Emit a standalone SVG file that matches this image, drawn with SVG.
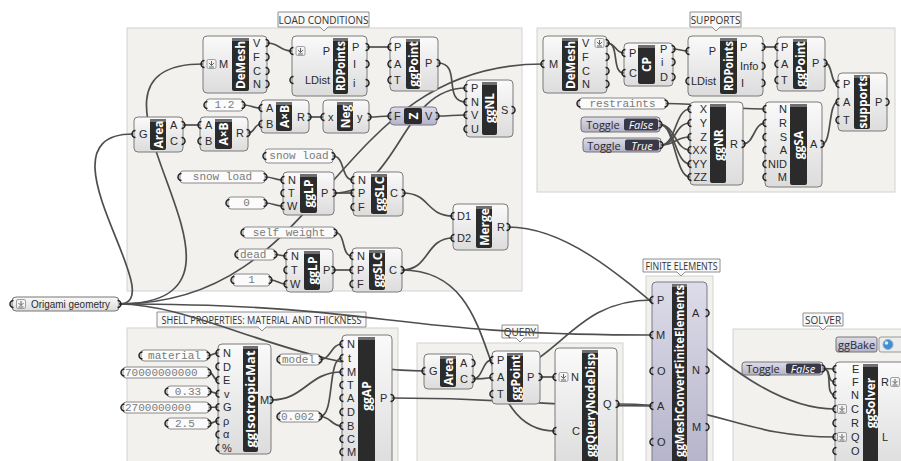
<svg xmlns="http://www.w3.org/2000/svg" width="901" height="461" viewBox="0 0 901 461">
<style>
.grp{fill:#f2f1ee;stroke:#d2d2d2}
.gl{fill:#f8f8f8;stroke:#8f8f8f}
.glt{font-family:"Open Sans","Noto Sans",sans-serif;font-size:10px;fill:#333;text-anchor:middle;dominant-baseline:central}
.body{fill:url(#gb);stroke:#7a7a7a}
.lav{fill:url(#gl);stroke:#7a7a8a}
.strip{fill:#2b2b2b}
.cap{fill:#707070}
.nm{font-family:"Open Sans","Noto Sans",sans-serif;font-weight:bold;font-size:12px;fill:#fff;text-anchor:middle;dominant-baseline:central}
.pl{font-family:"Liberation Sans","Arial",sans-serif;font-size:11px;fill:#2a2a2a;dominant-baseline:central}
.pr{text-anchor:end}
.w{fill:none;stroke:#4e4e4e;stroke-width:1.7}
.pn{fill:#fbfbfb;stroke:#8a8a8a}
.pt{font-family:"Liberation Mono","DejaVu Sans Mono",monospace;font-size:11px;fill:#7a7a7a;dominant-baseline:central}
.ptc{text-anchor:middle}
.tgl{fill:url(#gl);stroke:#777}
.tgd{fill:#383848}
.tgt{font-family:"Open Sans","Noto Sans",sans-serif;font-size:11px;fill:#2a2a2a;text-anchor:middle;dominant-baseline:central}
.tgv{font-family:"Open Sans","Noto Sans",sans-serif;font-size:11px;font-style:italic;fill:#fff;text-anchor:middle;dominant-baseline:central}
</style>
<defs>
<linearGradient id="gb" x1="0" y1="0" x2="0" y2="1"><stop offset="0" stop-color="#fafafa"/><stop offset="1" stop-color="#dcdcdc"/></linearGradient>
<linearGradient id="gl" x1="0" y1="0" x2="0" y2="1"><stop offset="0" stop-color="#dddce9"/><stop offset="1" stop-color="#b4b2c8"/></linearGradient>
<path id="gi" d="M1.5,-3.5 A3.5,3.5 0 0 0 1.5,3.5" fill="none" stroke="#222" stroke-width="1.5"/>
<path id="go" d="M-1.5,-3.5 A3.5,3.5 0 0 1 -1.5,3.5" fill="none" stroke="#222" stroke-width="1.5"/>
<g id="dn"><rect x="-4.5" y="-4.5" width="9" height="9" rx="1.5" fill="#f3f3f3" stroke="#8a8a8a" stroke-width="0.8"/><path d="M-2.5,-1 L0,1.5 L2.5,-1 M0,-3 V1.5 M-2.5,3 H2.5" fill="none" stroke="#555" stroke-width="0.9"/></g>
</defs>
<rect width="901" height="461" fill="#ffffff"/>

<g id="groups">
<rect class="grp" x="127" y="28" width="395" height="263"/>
<path class="gl" d="M278,12 H369 V27 H328 L324,31 L320,27 H278 Z"/>
<text class="glt" x="323.5" y="19.5">LOAD CONDITIONS</text>
<rect class="grp" x="537" y="28" width="358" height="164"/>
<path class="gl" d="M690,12 H741 V27 H720 L716,31 L712,27 H690 Z"/>
<text class="glt" x="715.5" y="19.5">SUPPORTS</text>
<rect class="grp" x="127" y="328" width="271" height="140"/>
<path class="gl" d="M157,312 H366 V327 H266 L262,331 L258,327 H157 Z"/>
<text class="glt" x="261.5" y="319.5" textLength="200" lengthAdjust="spacingAndGlyphs">SHELL PROPERTIES: MATERIAL AND THICKNESS</text>
<rect class="grp" x="417" y="343" width="206" height="125"/>
<path class="gl" d="M502,325 H538 V338 H524 L520,342 L516,338 H502 Z"/>
<text class="glt" x="520" y="331.5">QUERY</text>
<rect class="grp" x="646" y="276" width="67" height="190"/>
<path class="gl" d="M643,259 H720 V272 H685 L681,276 L677,272 H643 Z"/>
<text class="glt" x="681.5" y="265.5" textLength="72" lengthAdjust="spacingAndGlyphs">FINITE ELEMENTS</text>
<rect class="grp" x="733" y="329" width="175" height="140"/>
<path class="gl" d="M803,313 H843 V326 H827 L823,330 L819,326 H803 Z"/>
<text class="glt" x="823" y="319.5">SOLVER</text>
</g>

<g id="connectors">
<path class="w" d="M119,304 C175,304 30,134 133,134"/>
<path class="w" d="M119,304 C300,304 40,64 203,64"/>
<path class="w" d="M119,304 C330,304 330,64 543,64"/>
<path class="w" d="M119,304 C385,304 385,335 652,335"/>
<path class="w" d="M119,304 C200,304 300,371 424,371"/>
<path class="w" d="M267,43 C280,43 279,51 292,51"/>
<path class="w" d="M367,47 L390,47"/>
<path class="w" d="M438,63 C462,63 442,102 466,102"/>
<path class="w" d="M334,193 C400,193 400,88 466,88"/>
<path class="w" d="M243,105 C252,105 252,108 261,108"/>
<path class="w" d="M183,125 L200,125"/>
<path class="w" d="M248,133 C255,133 254,124 261,124"/>
<path class="w" d="M309,117 L323,117"/>
<path class="w" d="M369,117 C380,117 380,116 390,116"/>
<path class="w" d="M437,116 C452,116 451,115 466,115"/>
<path class="w" d="M333,156 C345,156 341,180 353,180"/>
<path class="w" d="M265,177 C274,177 274,180 283,180"/>
<path class="w" d="M265,203 C274,203 274,206 283,206"/>
<path class="w" d="M334,193 L353,193"/>
<path class="w" d="M335,232.5 C346,232.5 341,256 352,256"/>
<path class="w" d="M275,254.5 C280,254.5 281,256 286,256"/>
<path class="w" d="M270,280 C278,280 278,284 286,284"/>
<path class="w" d="M333,270 L352,270"/>
<path class="w" d="M403,193 C430,193 426,216 453,216"/>
<path class="w" d="M402,270 C430,270 425,238 453,238"/>
<path class="w" d="M402,270 C510,270 470,431 555,431"/>
<path class="w" d="M508,227 C620,227 720,409 835,409"/>
<path class="w" d="M607,43 C616,43 615,53 624,53"/>
<path class="w" d="M607,43 C620,43 611,73 624,73"/>
<path class="w" d="M673,49 C680,49 681,51 688,51"/>
<path class="w" d="M763,47 L777,47"/>
<path class="w" d="M825,63 C833,63 830,84 838,84"/>
<path class="w" d="M666,103.5 C710,103.5 720,109 765,109"/>
<path class="w" d="M661,145 C676,145 675,109 690,109"/>
<path class="w" d="M661,145 C676,145 675,123 690,123"/>
<path class="w" d="M661,145 C676,145 675,137 690,137"/>
<path class="w" d="M660,124.5 C675,124.5 675,150 690,150"/>
<path class="w" d="M660,124.5 C675,124.5 675,164 690,164"/>
<path class="w" d="M660,124.5 C675,124.5 675,177 690,177"/>
<path class="w" d="M743,144 C754,144 754,123 765,123"/>
<path class="w" d="M822,144 C832,144 828,102 838,102"/>
<path class="w" d="M208,355.5 C213,355.5 213,353 218,353"/>
<path class="w" d="M209,372.5 C214,372.5 213,380 218,380"/>
<path class="w" d="M209,391.5 C214,391.5 213,393.5 218,393.5"/>
<path class="w" d="M209,407.5 L218,407"/>
<path class="w" d="M209,423.5 C214,423.5 213,421 218,421"/>
<path class="w" d="M320,359.5 C331,359.5 331,344 342,344"/>
<path class="w" d="M320,416.5 C335,416.5 327,358 342,358"/>
<path class="w" d="M271,400 C305,400 308,372 342,372"/>
<path class="w" d="M320,416.5 C331,416.5 331,426 342,426"/>
<path class="w" d="M392,398 C520,398 520,406 652,406"/>
<path class="w" d="M473,379 C483,379 482,360 492,360"/>
<path class="w" d="M473,379 C560,379 563,300 652,300"/>
<path class="w" d="M540,377 L555,377"/>
<path class="w" d="M617,404 C720,404 740,437 835,437"/>
<path class="w" d="M823,368.5 L835,369"/>
<path class="w" d="M823,368.5 C832,368.5 826,382 835,382"/>
<path class="w" d="M823,368.5 C834,368.5 824,395 835,395"/>
</g>

<g id="origami-geometry">
<rect x="12" y="297" width="107" height="14" rx="4" fill="url(#gb)" stroke="#777"/>
<use href="#dn" x="21" y="304"/>
<text class="pl" x="31" y="304" style="font-size:10.5px" textLength="79" lengthAdjust="spacingAndGlyphs">Origami geometry</text>
<use href="#gi" x="12" y="304"/><use href="#go" x="119" y="304"/>
</g>

<g id="demesh-load">
<rect class="body" x="203" y="36" width="64" height="57" rx="4"/>
<rect class="strip" x="232" y="38" width="17" height="53" rx="2"/><rect class="cap" x="232" y="38" width="17" height="3"/>
<text class="nm" transform="translate(240.5,65) rotate(-90)">DeMesh</text>
<use href="#dn" x="211.5" y="64"/>
<text class="pl" x="219" y="64">M</text>
<text class="pl" x="253" y="43">V</text><text class="pl" x="253" y="57">F</text><text class="pl" x="253" y="71">C</text><text class="pl" x="253" y="84">N</text>
<use href="#gi" x="203" y="64"/>
<use href="#go" x="267" y="43"/><use href="#go" x="267" y="57"/><use href="#go" x="267" y="71"/><use href="#go" x="267" y="84"/>
</g>

<g id="rdpoints-load">
<rect class="body" x="292" y="36" width="75" height="60" rx="4"/>
<rect class="strip" x="333" y="38" width="15" height="56" rx="2"/><rect class="cap" x="333" y="38" width="15" height="3"/>
<text class="nm" transform="translate(340.5,66) rotate(-90)" textLength="50" lengthAdjust="spacingAndGlyphs">RDPoints</text>
<use href="#dn" x="300.5" y="51"/>
<text class="pl pr" x="330" y="51">P</text><text class="pl pr" x="330" y="80">LDist</text>
<text class="pl" x="352" y="47">P</text><text class="pl" x="353" y="64">I</text><text class="pl" x="353" y="83">i</text>
<use href="#gi" x="292" y="51"/><use href="#gi" x="292" y="80"/>
<use href="#go" x="367" y="47"/><use href="#go" x="367" y="64"/><use href="#go" x="367" y="83"/>
</g>

<g id="ggpoint-load">
<rect class="body" x="390" y="37" width="48" height="54" rx="4"/>
<rect class="strip" x="406" y="39" width="14" height="50" rx="2"/><rect class="cap" x="406" y="39" width="14" height="3"/>
<text class="nm" transform="translate(413,64) rotate(-90)">ggPoint</text>
<text class="pl" x="394" y="47">P</text><text class="pl" x="394" y="64">A</text><text class="pl" x="394" y="80">T</text>
<text class="pl" x="425" y="63">P</text>
<use href="#gi" x="390" y="47"/><use href="#gi" x="390" y="64"/><use href="#gi" x="390" y="80"/>
<use href="#go" x="438" y="63"/>
</g>

<g id="ggnl">
<rect class="body" x="466" y="80" width="47" height="57" rx="4"/>
<rect class="strip" x="482" y="82" width="15" height="53" rx="2"/><rect class="cap" x="482" y="82" width="15" height="3"/>
<text class="nm" transform="translate(489.5,108) rotate(-90)">ggNL</text>
<text class="pl" x="471" y="88">P</text><text class="pl" x="471" y="102">N</text><text class="pl" x="471" y="115">V</text><text class="pl" x="471" y="129">U</text>
<text class="pl" x="501" y="110">S</text>
<use href="#gi" x="466" y="88"/><use href="#gi" x="466" y="102"/><use href="#gi" x="466" y="115"/><use href="#gi" x="466" y="129"/>
<use href="#go" x="513" y="110"/>
</g>

<g id="area-load">
<rect class="body" x="134" y="117" width="49" height="35" rx="4"/>
<rect class="strip" x="150" y="119" width="16" height="31" rx="2"/><rect class="cap" x="150" y="119" width="16" height="3"/>
<text class="nm" transform="translate(158,134.5) rotate(-90)">Area</text>
<text class="pl" x="139" y="134">G</text>
<text class="pl" x="170" y="125">A</text><text class="pl" x="170" y="141">C</text>
<use href="#gi" x="134" y="134"/>
<use href="#go" x="183" y="125"/><use href="#go" x="183" y="141"/>
</g>

<g id="axb-lower">
<rect class="body" x="200" y="117" width="48" height="34" rx="4"/>
<rect class="strip" x="215" y="119" width="17" height="30" rx="2"/><rect class="cap" x="215" y="119" width="17" height="3"/>
<text class="nm" transform="translate(223.5,134) rotate(-90)">A×B</text>
<text class="pl" x="205" y="125">A</text><text class="pl" x="205" y="141">B</text>
<text class="pl" x="236" y="133">R</text>
<use href="#gi" x="200" y="125"/><use href="#gi" x="200" y="141"/>
<use href="#go" x="248" y="133"/>
</g>

<g id="axb-upper">
<rect class="body" x="261" y="100" width="48" height="33" rx="4"/>
<rect class="strip" x="276" y="102" width="16" height="29" rx="2"/><rect class="cap" x="276" y="102" width="16" height="3"/>
<text class="nm" transform="translate(284,116.5) rotate(-90)">A×B</text>
<text class="pl" x="266" y="108">A</text><text class="pl" x="266" y="124">B</text>
<text class="pl" x="297" y="117">R</text>
<use href="#gi" x="261" y="108"/><use href="#gi" x="261" y="124"/>
<use href="#go" x="309" y="117"/>
</g>

<g id="panel-1-2">
<rect class="pn" x="206" y="99" width="37" height="12" rx="3"/>
<text class="pt ptc" x="224.5" y="105">1.2</text>
<use href="#gi" x="206" y="105"/><use href="#go" x="243" y="105"/>
</g>

<g id="neg">
<rect class="body" x="323" y="100" width="46" height="33" rx="4"/>
<rect class="strip" x="337" y="102" width="16" height="29" rx="2"/><rect class="cap" x="337" y="102" width="16" height="3"/>
<text class="nm" transform="translate(345,116.5) rotate(-90)">Neg</text>
<text class="pl" x="328" y="117">x</text>
<text class="pl" x="357" y="117">y</text>
<use href="#gi" x="323" y="117"/><use href="#go" x="369" y="117"/>
</g>

<g id="unit-z">
<rect class="lav" x="390" y="107" width="47" height="18" rx="4"/>
<rect class="strip" x="404" y="108" width="18" height="16" rx="2"/>
<text class="nm" transform="translate(413,116) rotate(-90)">Z</text>
<text class="pl" x="394" y="116">F</text>
<text class="pl" x="425" y="116">V</text>
<use href="#gi" x="390" y="116"/><use href="#go" x="437" y="116"/>
</g>

<g id="panel-snow-load-upper">
<rect class="pn" x="265" y="149" width="68" height="14" rx="3"/>
<text class="pt ptc" x="299" y="156">snow load</text>
<use href="#gi" x="265" y="156"/><use href="#go" x="333" y="156"/>
</g>

<g id="panel-snow-load-left">
<rect class="pn" x="180" y="171" width="85" height="12" rx="3"/>
<text class="pt ptc" x="222.5" y="177">snow load</text>
<use href="#gi" x="180" y="177"/><use href="#go" x="265" y="177"/>
</g>

<g id="panel-0">
<rect class="pn" x="228" y="197" width="37" height="12" rx="3"/>
<text class="pt ptc" x="246.5" y="203">0</text>
<use href="#gi" x="228" y="203"/><use href="#go" x="265" y="203"/>
</g>

<g id="gglp-1">
<rect class="body" x="283" y="172" width="51" height="43" rx="4"/>
<rect class="strip" x="300" y="174" width="17" height="39" rx="2"/><rect class="cap" x="300" y="174" width="17" height="3"/>
<text class="nm" transform="translate(308.5,193.5) rotate(-90)">ggLP</text>
<text class="pl" x="288" y="180">N</text><text class="pl" x="288" y="193">T</text><text class="pl" x="287" y="206">W</text>
<text class="pl" x="321" y="193">P</text>
<use href="#gi" x="283" y="180"/><use href="#gi" x="283" y="193"/><use href="#gi" x="283" y="206"/>
<use href="#go" x="334" y="193"/>
</g>

<g id="panel-self-weight">
<rect class="pn" x="243" y="227" width="92" height="11" rx="3"/>
<text class="pt ptc" x="289" y="232.5">self weight</text>
<use href="#gi" x="243" y="232.5"/><use href="#go" x="335" y="232.5"/>
</g>

<g id="panel-dead">
<rect class="pn" x="237" y="249" width="38" height="11" rx="3"/>
<text class="pt" x="240" y="254.5">dead</text>
<use href="#gi" x="237" y="254.5"/><use href="#go" x="275" y="254.5"/>
</g>

<g id="panel-1">
<rect class="pn" x="233" y="274" width="37" height="12" rx="3"/>
<text class="pt ptc" x="251.5" y="280">1</text>
<use href="#gi" x="233" y="280"/><use href="#go" x="270" y="280"/>
</g>

<g id="gglp-2">
<rect class="body" x="286" y="249" width="47" height="43" rx="4"/>
<rect class="strip" x="304" y="251" width="16" height="39" rx="2"/><rect class="cap" x="304" y="251" width="16" height="3"/>
<text class="nm" transform="translate(312,270.5) rotate(-90)">ggLP</text>
<text class="pl" x="291" y="256">N</text><text class="pl" x="291" y="270">T</text><text class="pl" x="290" y="284">W</text>
<text class="pl" x="323" y="270">P</text>
<use href="#gi" x="286" y="256"/><use href="#gi" x="286" y="270"/><use href="#gi" x="286" y="284"/>
<use href="#go" x="333" y="270"/>
</g>

<g id="ggslc-1">
<rect class="body" x="353" y="172" width="50" height="44" rx="4"/>
<rect class="strip" x="371" y="174" width="16" height="40" rx="2"/><rect class="cap" x="371" y="174" width="16" height="3"/>
<text class="nm" transform="translate(379,194) rotate(-90)">ggSLC</text>
<text class="pl" x="358" y="180">N</text><text class="pl" x="358" y="193">P</text><text class="pl" x="358" y="207">F</text>
<text class="pl" x="390" y="193">C</text>
<use href="#gi" x="353" y="180"/><use href="#gi" x="353" y="193"/><use href="#gi" x="353" y="207"/>
<use href="#go" x="403" y="193"/>
</g>

<g id="ggslc-2">
<rect class="body" x="352" y="248" width="50" height="44" rx="4"/>
<rect class="strip" x="369" y="250" width="16" height="40" rx="2"/><rect class="cap" x="369" y="250" width="16" height="3"/>
<text class="nm" transform="translate(377,270) rotate(-90)">ggSLC</text>
<text class="pl" x="357" y="256">N</text><text class="pl" x="357" y="270">P</text><text class="pl" x="357" y="284">F</text>
<text class="pl" x="389" y="270">C</text>
<use href="#gi" x="352" y="256"/><use href="#gi" x="352" y="270"/><use href="#gi" x="352" y="284"/>
<use href="#go" x="402" y="270"/>
</g>

<g id="merge">
<rect class="body" x="453" y="204" width="55" height="46" rx="4"/>
<rect class="strip" x="476" y="206" width="16" height="42" rx="2"/><rect class="cap" x="476" y="206" width="16" height="3"/>
<text class="nm" transform="translate(484,227) rotate(-90)">Merge</text>
<text class="pl" x="457" y="216">D1</text><text class="pl" x="457" y="238">D2</text>
<text class="pl" x="497" y="227">R</text>
<use href="#gi" x="453" y="216"/><use href="#gi" x="453" y="238"/>
<use href="#go" x="508" y="227"/>
</g>

<g id="demesh-supports">
<rect class="body" x="543" y="36" width="64" height="57" rx="4"/>
<rect class="strip" x="562" y="38" width="16" height="53" rx="2"/><rect class="cap" x="562" y="38" width="16" height="3"/>
<text class="nm" transform="translate(570,65) rotate(-90)">DeMesh</text>
<text class="pl" x="549" y="64">M</text>
<text class="pl" x="582" y="43">V</text><text class="pl" x="582" y="57">F</text><text class="pl" x="582" y="71">C</text><text class="pl" x="582" y="84">N</text>
<use href="#dn" x="599.5" y="43"/>
<use href="#gi" x="543" y="64"/>
<use href="#go" x="607" y="43"/><use href="#go" x="607" y="57"/><use href="#go" x="607" y="71"/><use href="#go" x="607" y="84"/>
</g>

<g id="cp">
<rect class="body" x="624" y="43" width="49" height="43" rx="4"/>
<rect class="strip" x="638" y="45" width="17" height="39" rx="2"/><rect class="cap" x="638" y="45" width="17" height="3"/>
<text class="nm" transform="translate(646.5,64.5) rotate(-90)">CP</text>
<text class="pl" x="629" y="53">P</text><text class="pl" x="629" y="73">C</text>
<text class="pl" x="660" y="49">P</text><text class="pl" x="661" y="62">i</text><text class="pl" x="660" y="77">D</text>
<use href="#gi" x="624" y="53"/><use href="#gi" x="624" y="73"/>
<use href="#go" x="673" y="49"/><use href="#go" x="673" y="62"/><use href="#go" x="673" y="77"/>
</g>

<g id="rdpoints-supports">
<rect class="body" x="688" y="36" width="75" height="60" rx="4"/>
<rect class="strip" x="720" y="38" width="17" height="56" rx="2"/><rect class="cap" x="720" y="38" width="17" height="3"/>
<text class="nm" transform="translate(728.5,66) rotate(-90)" textLength="50" lengthAdjust="spacingAndGlyphs">RDPoints</text>
<text class="pl pr" x="716" y="51">P</text><text class="pl pr" x="716" y="81">LDist</text>
<text class="pl" x="740" y="47">P</text><text class="pl" x="740" y="66">Info</text><text class="pl" x="741" y="83">I</text>
<use href="#gi" x="688" y="51"/><use href="#gi" x="688" y="81"/>
<use href="#go" x="763" y="47"/><use href="#go" x="763" y="66"/><use href="#go" x="763" y="83"/>
</g>

<g id="ggpoint-supports">
<rect class="body" x="777" y="37" width="48" height="54" rx="4"/>
<rect class="strip" x="793" y="39" width="14" height="50" rx="2"/><rect class="cap" x="793" y="39" width="14" height="3"/>
<text class="nm" transform="translate(800,64) rotate(-90)">ggPoint</text>
<text class="pl" x="781" y="47">P</text><text class="pl" x="781" y="64">A</text><text class="pl" x="781" y="80">T</text>
<text class="pl" x="812" y="63">P</text>
<use href="#gi" x="777" y="47"/><use href="#gi" x="777" y="64"/><use href="#gi" x="777" y="80"/>
<use href="#go" x="825" y="63"/>
</g>

<g id="supports">
<rect class="body" x="838" y="73" width="49" height="58" rx="4"/>
<rect class="strip" x="854" y="75" width="16" height="54" rx="2"/><rect class="cap" x="854" y="75" width="16" height="3"/>
<text class="nm" transform="translate(862,102) rotate(-90)">supports</text>
<text class="pl" x="843" y="84">P</text><text class="pl" x="843" y="102">A</text><text class="pl" x="843" y="120">T</text>
<text class="pl" x="875" y="102">P</text>
<use href="#gi" x="838" y="84"/><use href="#gi" x="838" y="102"/><use href="#gi" x="838" y="120"/>
<use href="#go" x="887" y="102"/>
</g>

<g id="panel-restraints">
<rect class="pn" x="579" y="98" width="87" height="11" rx="3"/>
<text class="pt ptc" x="622.5" y="103.5">restraints</text>
<use href="#gi" x="579" y="103.5"/><use href="#go" x="666" y="103.5"/>
</g>

<g id="toggle-false-supports">
<rect class="tgl" x="581" y="117" width="79" height="15" rx="3"/>
<rect class="tgd" x="624" y="118.5" width="34" height="12" rx="2"/>
<text class="tgt" x="603" y="124.5">Toggle</text>
<text class="tgv" x="641" y="124.5">False</text>
<use href="#go" x="660" y="124.5"/>
</g>

<g id="toggle-true-supports">
<rect class="tgl" x="583" y="138" width="78" height="14" rx="3"/>
<rect class="tgd" x="625" y="139.5" width="34" height="11" rx="2"/>
<text class="tgt" x="604" y="145">Toggle</text>
<text class="tgv" x="642" y="145">True</text>
<use href="#go" x="661" y="145"/>
</g>

<g id="ggnr">
<rect class="body" x="690" y="102" width="53" height="83" rx="4"/>
<rect class="strip" x="710" y="104" width="16" height="79" rx="2"/><rect class="cap" x="710" y="104" width="16" height="3"/>
<text class="nm" transform="translate(718,145) rotate(-90)">ggNR</text>
<text class="pl pr" x="707" y="109">X</text><text class="pl pr" x="707" y="123">Y</text><text class="pl pr" x="707" y="137">Z</text>
<text class="pl pr" x="707" y="150">XX</text><text class="pl pr" x="707" y="164">YY</text><text class="pl pr" x="707" y="177">ZZ</text>
<text class="pl" x="730" y="144">R</text>
<use href="#gi" x="690" y="109"/><use href="#gi" x="690" y="123"/><use href="#gi" x="690" y="137"/><use href="#gi" x="690" y="150"/><use href="#gi" x="690" y="164"/><use href="#gi" x="690" y="177"/>
<use href="#go" x="743" y="144"/>
</g>

<g id="ggsa">
<rect class="body" x="765" y="102" width="57" height="85" rx="4"/>
<rect class="strip" x="790" y="104" width="17" height="81" rx="2"/><rect class="cap" x="790" y="104" width="17" height="3"/>
<text class="nm" transform="translate(798.5,145) rotate(-90)">ggSA</text>
<text class="pl pr" x="787" y="109">N</text><text class="pl pr" x="787" y="123">R</text><text class="pl pr" x="787" y="137">S</text>
<text class="pl pr" x="787" y="150">A</text><text class="pl pr" x="787" y="164">NID</text><text class="pl pr" x="787" y="177">M</text>
<text class="pl" x="810" y="144">A</text>
<use href="#gi" x="765" y="109"/><use href="#gi" x="765" y="123"/><use href="#gi" x="765" y="137"/><use href="#gi" x="765" y="150"/><use href="#gi" x="765" y="164"/><use href="#gi" x="765" y="177"/>
<use href="#go" x="822" y="144"/>
</g>

<g id="panel-material">
<rect class="pn" x="141" y="350" width="67" height="11" rx="3"/>
<text class="pt ptc" x="174.5" y="355.5">material</text>
<use href="#gi" x="141" y="355.5"/><use href="#go" x="208" y="355.5"/>
</g>
<g id="panel-young">
<rect class="pn" x="123" y="367" width="86" height="11" rx="3"/>
<text class="pt" x="125" y="372.5">70000000000</text>
<use href="#gi" x="123" y="372.5"/><use href="#go" x="209" y="372.5"/>
</g>
<g id="panel-poisson">
<rect class="pn" x="167" y="386" width="42" height="11" rx="3"/>
<text class="pt ptc" x="188" y="391.5">0.33</text>
<use href="#gi" x="167" y="391.5"/><use href="#go" x="209" y="391.5"/>
</g>
<g id="panel-shear">
<rect class="pn" x="123" y="402" width="86" height="11" rx="3"/>
<text class="pt" x="125" y="407.5">2700000000</text>
<use href="#gi" x="123" y="407.5"/><use href="#go" x="209" y="407.5"/>
</g>
<g id="panel-density">
<rect class="pn" x="167" y="418" width="42" height="11" rx="3"/>
<text class="pt" x="175" y="423.5">2.5</text>
<use href="#gi" x="167" y="423.5"/><use href="#go" x="209" y="423.5"/>
</g>

<g id="ggisotropicmat">
<rect class="body" x="218" y="344" width="53" height="110" rx="4"/>
<rect class="strip" x="243" y="346" width="15" height="106" rx="2"/><rect class="cap" x="243" y="346" width="15" height="3"/>
<text class="nm" transform="translate(250.5,399) rotate(-90)" textLength="97" lengthAdjust="spacingAndGlyphs">ggIsotropicMat</text>
<text class="pl" x="223" y="353">N</text><text class="pl" x="223" y="366.6">D</text><text class="pl" x="223" y="380.1">E</text><text class="pl" x="224" y="393.7">v</text>
<text class="pl" x="223" y="407.3">G</text><text class="pl" x="223" y="420.9">ρ</text><text class="pl" x="223" y="434.4">α</text><text class="pl" x="222" y="448">%</text>
<text class="pl" x="260" y="400">M</text>
<use href="#gi" x="218" y="353"/><use href="#gi" x="218" y="366.6"/><use href="#gi" x="218" y="380.1"/><use href="#gi" x="218" y="393.7"/><use href="#gi" x="218" y="407.3"/><use href="#gi" x="218" y="420.9"/><use href="#gi" x="218" y="434.4"/><use href="#gi" x="218" y="448"/>
<use href="#go" x="271" y="400"/>
</g>

<g id="panel-model">
<rect class="pn" x="279" y="354" width="41" height="11" rx="3"/>
<text class="pt" x="282" y="359.5">model</text>
<use href="#gi" x="279" y="359.5"/><use href="#go" x="320" y="359.5"/>
</g>
<g id="panel-thickness">
<rect class="pn" x="279" y="411" width="41" height="11" rx="3"/>
<text class="pt" x="281" y="416.5">0.002</text>
<use href="#gi" x="279" y="416.5"/><use href="#go" x="320" y="416.5"/>
</g>

<g id="ggap">
<rect class="body" x="342" y="335" width="50" height="135" rx="4"/>
<rect class="strip" x="358" y="337" width="17" height="130" rx="2"/><rect class="cap" x="358" y="337" width="17" height="3"/>
<text class="nm" transform="translate(366.5,396) rotate(-90)">ggAP</text>
<text class="pl" x="347" y="344">N</text><text class="pl" x="348" y="358">t</text><text class="pl" x="347" y="372">M</text><text class="pl" x="347" y="385">T</text>
<text class="pl" x="347" y="398">A</text><text class="pl" x="347" y="412">D</text><text class="pl" x="347" y="426">B</text><text class="pl" x="347" y="439">C</text><text class="pl" x="347" y="452">M</text>
<text class="pl" x="380" y="398">P</text>
<use href="#gi" x="342" y="344"/><use href="#gi" x="342" y="358"/><use href="#gi" x="342" y="372"/><use href="#gi" x="342" y="385"/><use href="#gi" x="342" y="398"/><use href="#gi" x="342" y="412"/><use href="#gi" x="342" y="426"/><use href="#gi" x="342" y="439"/><use href="#gi" x="342" y="452"/>
<use href="#go" x="392" y="398"/>
</g>

<g id="area-query">
<rect class="body" x="424" y="354" width="49" height="35" rx="4"/>
<rect class="strip" x="440" y="356" width="16" height="31" rx="2"/><rect class="cap" x="440" y="356" width="16" height="3"/>
<text class="nm" transform="translate(448,371.5) rotate(-90)">Area</text>
<text class="pl" x="429" y="371">G</text>
<text class="pl" x="460" y="363">A</text><text class="pl" x="460" y="379">C</text>
<use href="#gi" x="424" y="371"/>
<use href="#go" x="473" y="363"/><use href="#go" x="473" y="379"/>
</g>

<g id="ggpoint-query">
<rect class="body" x="492" y="351" width="48" height="53" rx="4"/>
<rect class="strip" x="507" y="353" width="16" height="49" rx="2"/><rect class="cap" x="507" y="353" width="16" height="3"/>
<text class="nm" transform="translate(515,377.5) rotate(-90)">ggPoint</text>
<text class="pl" x="497" y="360">P</text><text class="pl" x="497" y="377">A</text><text class="pl" x="497" y="394">T</text>
<text class="pl" x="527" y="377">P</text>
<use href="#gi" x="492" y="360"/><use href="#gi" x="492" y="377"/><use href="#gi" x="492" y="394"/>
<use href="#go" x="540" y="377"/>
</g>

<g id="ggquerynodedisp">
<rect class="body" x="555" y="348" width="62" height="122" rx="4"/>
<rect class="strip" x="582" y="350" width="16" height="118" rx="2"/><rect class="cap" x="582" y="350" width="16" height="3"/>
<text class="nm" transform="translate(590,405) rotate(-90)" textLength="104" lengthAdjust="spacingAndGlyphs">ggQueryNodeDisp</text>
<use href="#dn" x="563.5" y="377"/>
<text class="pl" x="571" y="377">N</text><text class="pl" x="572" y="431">C</text>
<text class="pl" x="603" y="404">Q</text>
<use href="#gi" x="555" y="377"/><use href="#gi" x="555" y="431"/>
<use href="#go" x="617" y="404"/>
</g>

<g id="ggmeshconvertfiniteelements">
<rect class="lav" x="652" y="282" width="55" height="190" rx="4"/>
<rect class="strip" x="672" y="284" width="15" height="185" rx="2"/><rect class="cap" x="672" y="284" width="15" height="3"/>
<text class="nm" transform="translate(679.5,371) rotate(-90)" textLength="172" lengthAdjust="spacingAndGlyphs">ggMeshConvertFiniteElements</text>
<text class="pl" x="657" y="300">P</text><text class="pl" x="656" y="335">M</text><text class="pl" x="657" y="371">O</text><text class="pl" x="657" y="406">A</text><text class="pl" x="657" y="442">O</text>
<text class="pl" x="692" y="313">A</text><text class="pl" x="692" y="370">N</text><text class="pl" x="692" y="427">M</text>
<use href="#gi" x="652" y="300"/><use href="#gi" x="652" y="335"/><use href="#gi" x="652" y="371"/><use href="#gi" x="652" y="406"/><use href="#gi" x="652" y="442"/>
<use href="#go" x="707" y="313"/><use href="#go" x="707" y="370"/><use href="#go" x="707" y="427"/>
</g>

<g id="ggbake">
<rect x="836" y="337" width="41" height="15" rx="2" fill="url(#gl)" stroke="#777"/>
<text class="tgt" x="856.5" y="344.5">ggBake</text>
<rect x="879" y="337" width="26" height="15" rx="2" fill="#ececec" stroke="#999"/>
<circle cx="888" cy="344.5" r="5" fill="#3d8fd6" stroke="#9ab" stroke-width="1"/>
<circle cx="886.5" cy="343" r="1.8" fill="#dbeeff"/>
</g>

<g id="toggle-false-solver">
<rect class="tgl" x="742" y="362" width="81" height="13" rx="3"/>
<rect class="tgd" x="786" y="363.5" width="35" height="10" rx="2"/>
<text class="tgt" x="763" y="368.5">Toggle</text>
<text class="tgv" x="803" y="368.5">False</text>
<use href="#go" x="823" y="368.5"/>
</g>

<g id="ggsolver">
<rect class="body" x="835" y="362" width="80" height="110" rx="4"/>
<rect class="strip" x="863" y="364" width="15" height="106" rx="2"/><rect class="cap" x="863" y="364" width="15" height="3"/>
<text class="nm" transform="translate(870.5,403) rotate(-90)">ggSolver</text>
<text class="pl" x="852" y="369">E</text><text class="pl" x="852" y="382">F</text><text class="pl" x="851" y="395">N</text><text class="pl" x="851" y="409">C</text>
<text class="pl" x="851" y="423">R</text><text class="pl" x="851" y="437">Q</text><text class="pl" x="851" y="451">O</text>
<use href="#dn" x="842" y="409"/><use href="#dn" x="842" y="437"/>
<text class="pl" x="881" y="382">R</text><use href="#dn" x="895" y="382"/>
<text class="pl" x="882" y="437">L</text>
<use href="#gi" x="835" y="369"/><use href="#gi" x="835" y="382"/><use href="#gi" x="835" y="395"/><use href="#gi" x="835" y="409"/><use href="#gi" x="835" y="423"/><use href="#gi" x="835" y="437"/><use href="#gi" x="835" y="451"/>
</g>
</svg>
